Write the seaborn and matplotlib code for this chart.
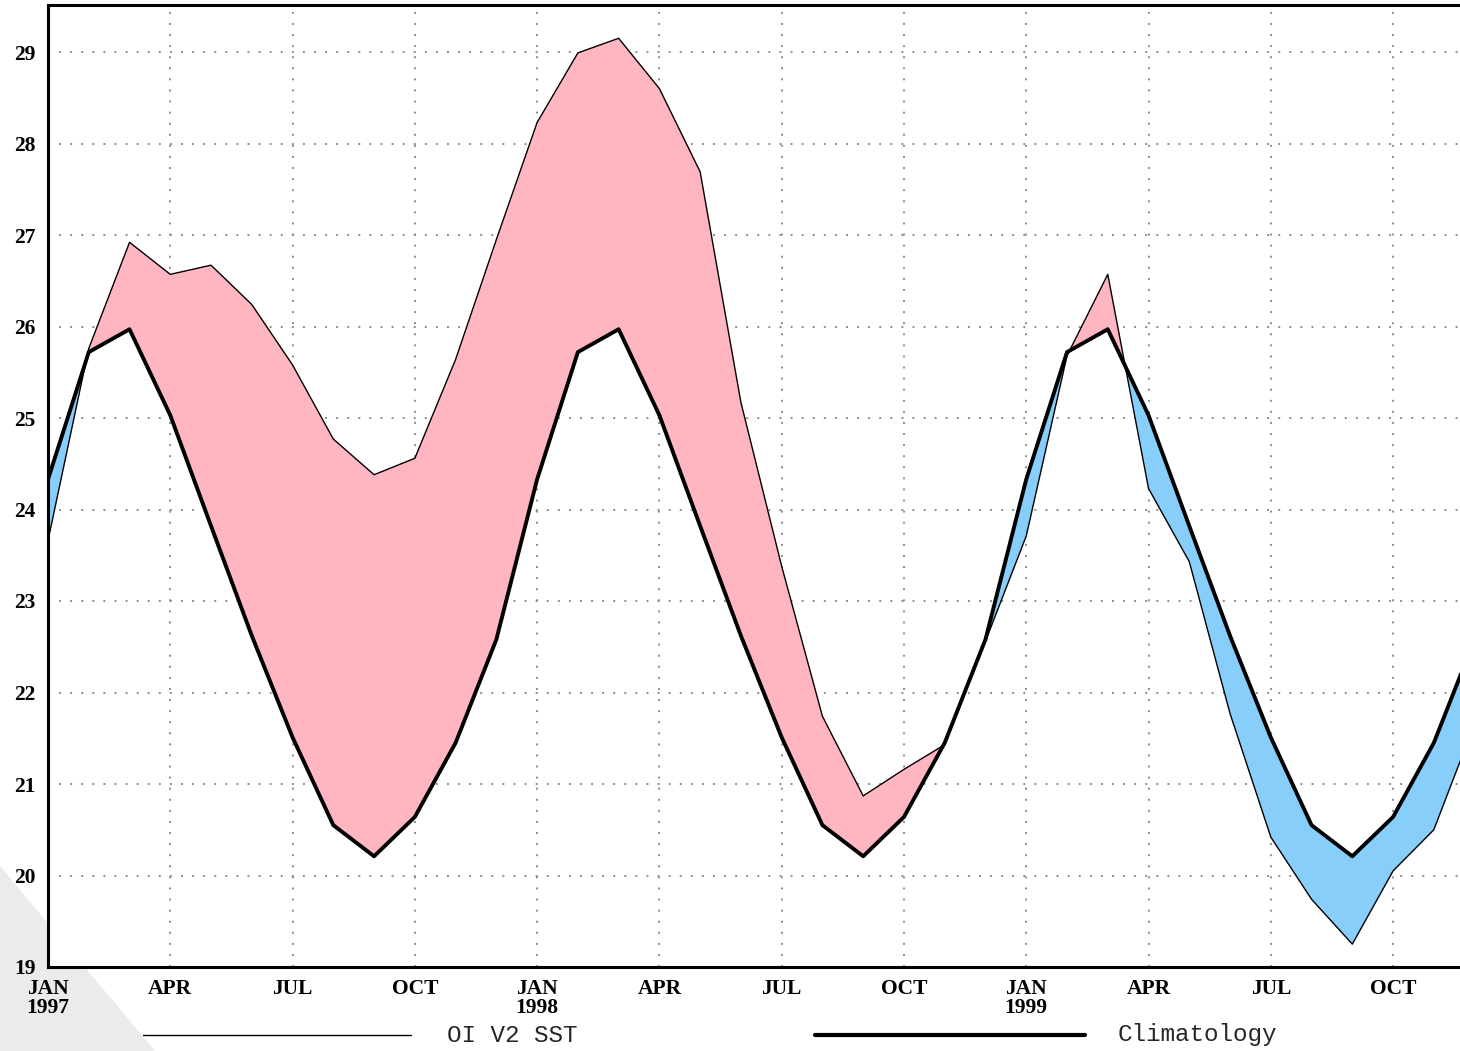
import matplotlib
matplotlib.use("Agg")
import matplotlib.pyplot as plt
from matplotlib.lines import Line2D
from matplotlib.patches import Polygon
from matplotlib.font_manager import FontProperties
import seaborn as sns
import pandas as pd
import numpy as np

# monthly values, Jan 1997 .. Dec 1999
clim_monthly = [24.33, 25.72, 25.97, 25.03, 23.82, 22.62, 21.51, 20.55, 20.21, 20.64, 21.45, 22.58]
sst_1997 = [23.66, 25.76, 26.92, 26.57, 26.67, 26.24, 25.58, 24.77, 24.38, 24.56, 25.64, 26.95]
sst_1998 = [28.23, 28.99, 29.15, 28.60, 27.69, 25.17, 23.38, 21.74, 20.87, 21.16, 21.43, 22.56]
sst_1999 = [23.71, 25.68, 26.57, 24.23, 23.43, 21.77, 20.42, 19.74, 19.25, 20.05, 20.50, 21.66]

tick_labels = ["JAN\n1997", "APR", "JUL", "OCT",
               "JAN\n1998", "APR", "JUL", "OCT",
               "JAN\n1999", "APR", "JUL", "OCT"]

sst = np.array(sst_1997 + sst_1998 + sst_1999)
clim = np.tile(clim_monthly, 3)
df = pd.DataFrame({"month": np.arange(len(sst)), "sst": sst, "clim": clim})

sns.set_style("white")

W, H = 1460, 1051
fig = plt.figure(figsize=(W / 100, H / 100), dpi=100)

# faint gray corner shadow behind everything
fig.add_artist(Polygon([(0, 0), (155 / W, 0), (0, 185 / H)], closed=True,
                       transform=fig.transFigure, facecolor="#ebebeb",
                       edgecolor="none", zorder=0))

ax = fig.add_axes([48 / W, 84 / H, 1412 / W, 962 / H])
ax.set_facecolor("white")
ax.set_zorder(1)

ax.fill_between(df["month"], df["sst"], df["clim"], where=df["sst"] >= df["clim"],
                interpolate=True, color="#ffb6c1", linewidth=0, zorder=2)
ax.fill_between(df["month"], df["sst"], df["clim"], where=df["sst"] <= df["clim"],
                interpolate=True, color="#87cefa", linewidth=0, zorder=2)

sns.lineplot(data=df, x="month", y="sst", ax=ax, color="black", linewidth=1.0, zorder=4)
sns.lineplot(data=df, x="month", y="clim", ax=ax, color="black", linewidth=2.8, zorder=5)

ax.set_xlim(0, 1412 / 40.76)
ax.set_ylim(19, 19 + 962 / 91.5)
ax.set_xticks(np.arange(0, 36, 3))
ax.set_xticklabels(tick_labels)
ax.set_yticks(np.arange(19, 30, 1))
ax.set_xlabel("")
ax.set_ylabel("")

ax.grid(True, color="#8c8c8c", linestyle=(0, (1, 4.7)), linewidth=1.4, zorder=1)
ax.set_axisbelow(True)

for side in ["left", "top", "bottom"]:
    ax.spines[side].set_linewidth(2.2)
    ax.spines[side].set_color("black")
ax.spines["right"].set_visible(False)

tick_font = FontProperties(family="Liberation Serif", weight="bold", size=15.5)
ax.tick_params(axis="both", direction="inout", length=8, width=1.5, colors="black")
ax.tick_params(axis="x", pad=5)
ax.tick_params(axis="y", pad=5)
for lab in ax.get_xticklabels() + ax.get_yticklabels():
    lab.set_fontproperties(tick_font)
    lab.set_linespacing(0.88)

# legend drawn below the axes
ly = (H - 1035) / H
fig.add_artist(Line2D([143 / W, 411 / W], [ly, ly], transform=fig.transFigure,
                      color="black", linewidth=1.0))
fig.add_artist(Line2D([815 / W, 1085 / W], [ly, ly], transform=fig.transFigure,
                      color="black", linewidth=3.0, solid_capstyle="round"))
fig.text(447 / W, ly, "OI V2 SST", family="Liberation Mono", size=17.5, va="center", ha="left")
fig.text(1118 / W, ly, "Climatology", family="Liberation Mono", size=17.5, va="center", ha="left")

fig.savefig("out.png", dpi=100)
